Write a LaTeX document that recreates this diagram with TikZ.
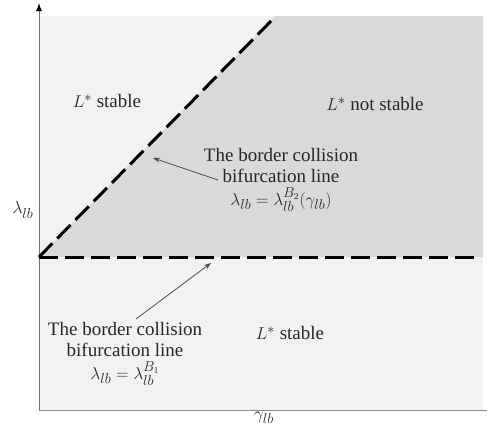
\documentclass[tikz,border=0pt]{standalone}
\usepackage{fontspec}
\setmainfont{Liberation Serif}
\usetikzlibrary{arrows.meta}
\begin{document}
\begin{tikzpicture}[x=1pt,y=-1pt,
  lbl/.style={font=\fontsize{19}{21}\selectfont, inner sep=0pt, align=center, text=black!85},
  bcline/.style={line width=3pt, dash pattern=on 19pt off 7pt, black},
  axisline/.style={draw=black!45, line width=1pt},
  pointer/.style={draw=black!70, line width=0.8pt, -{Stealth[length=7pt,width=5pt]}}]
\useasboundingbox (0,0) rectangle (488,432);
\definecolor{lightreg}{HTML}{F2F2F2}
\definecolor{darkreg}{HTML}{D9D9D9}
\fill[lightreg] (39,16) rectangle (483,410);
\fill[darkreg] (39,257) -- (275,16) -- (483,16) -- (483,257) -- cycle;
\coordinate (O) at (39,410);
\coordinate (Xend) at (487,410);
\coordinate (Ytop) at (39,3);
\draw[axisline] (O) -- (Xend);
\draw[axisline, -{Latex[length=8pt,width=6pt,color=black]}, draw=black!55] (O) -- (Ytop);
\coordinate (H0) at (39,257);
\coordinate (H1) at (480,257);
\coordinate (D1) at (274,18);
\draw[bcline] (H0) -- (D1);
\draw[bcline] (H0) -- (H1);
\node[lbl] (ylab) at (23,210) {$\lambda_{lb}$};
\node[lbl, anchor=north] (xlab) at (264,412) {$\gamma_{lb}$};
\node[lbl] (s1) at (107,101) {$L^{*}$ stable};
\node[lbl] (ns) at (375,104) {$L^{*}$ not stable};
\node[lbl] (s2) at (290,333) {$L^{*}$ stable};
\node[lbl, anchor=north] (t1) at (281,148) {The border collision\\bifurcation line\\[2pt]$\lambda_{lb}=\lambda_{lb}^{B_2}(\gamma_{lb})$};
\node[lbl, anchor=north] (t2) at (125,322) {The border collision\\bifurcation line\\[2pt]$\lambda_{lb}=\lambda_{lb}^{B_1}$};
\coordinate (p1s) at (218,180);
\coordinate (p1e) at (153,158);
\coordinate (p2s) at (136,319);
\coordinate (p2e) at (211,263);
\draw[pointer] (p1s) -- (p1e);
\draw[pointer] (p2s) -- (p2e);
\end{tikzpicture}
\end{document}
